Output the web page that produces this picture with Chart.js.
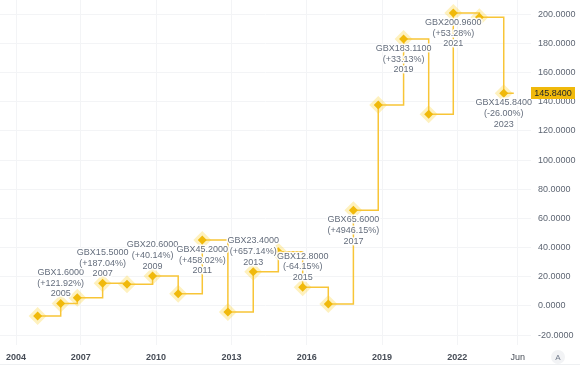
<!DOCTYPE html>
<html><head><meta charset="utf-8">
<script src="https://cdn.jsdelivr.net/npm/chart.js@4.4.1/dist/chart.umd.min.js"></script>
<style>html,body{margin:0;padding:0;background:#fff;}#wrap{width:580px;height:373px;position:relative;}</style>
</head><body><div id="wrap"><canvas id="c" width="580" height="373"></canvas></div>
<script>
// ---- data ----
const dates  = [2005.28, 2006.20, 2006.86, 2007.87, 2008.84, 2009.86, 2010.88, 2011.84, 2012.86, 2013.87,
                2014.87, 2015.84, 2016.86, 2017.86, 2018.85, 2019.86, 2020.86, 2021.84, 2022.88, 2023.85];
const values = [-6.9, 1.6, 5.6, 15.5, 14.8, 20.6, 8.4, 45.2, -4.2, 23.4,
                37.2, 12.8, 1.3, 65.6, 137.8, 183.11, 131.4, 200.96, 197.9, 145.84];
const currentDate = 2024.25;
const currentPrice = 145.84;
const labeledIndex = [1, 3, 5, 7, 9, 11, 13, 15, 17, 19];
const labelYears = ['2005','2007','2009','2011','2013','2015','2017','2019','2021','2023'];
const pctChanges = [121.92, 187.04, 40.14, 458.02, 657.14, -64.15, 4946.15, 33.13, 53.28, -26.00];
const labelBelow = [false, false, false, true, false, false, true, true, true, true];
const xTickValues = [2004.42, 2007, 2010, 2013, 2016, 2019, 2022, 2024.41];
const xTickLabels = ['2004','2007','2010','2013','2016','2019','2022','Jun'];
const yTickValues = [-20, 0, 20, 40, 60, 80, 100, 120, 140, 160, 180, 200];

const FONT = '"Liberation Sans", Arial, sans-serif';
const pts = dates.map((d, i) => ({x: d, y: values[i]}));
const linePts = pts.concat([{x: currentDate, y: currentPrice}]);

function noPad(s) { s.paddingTop = 0; s.paddingBottom = 0; s.paddingLeft = 0; s.paddingRight = 0; }

const labelPlugin = {
  id: 'labels',
  afterDatasetsDraw(chart) {
    const ctx = chart.ctx;
    const meta = chart.getDatasetMeta(0);
    ctx.save();
    ctx.font = '9px ' + FONT;
    ctx.textAlign = 'center';
    ctx.textBaseline = 'middle';
    const lh = 10.7;
    labeledIndex.forEach((di, k) => {
      const p = meta.data[di];
      const pc = pctChanges[k];
      const lines = ['GBX' + values[di].toFixed(4), '(' + (pc >= 0 ? '+' : '') + pc.toFixed(2) + '%)', labelYears[k]];
      const y0 = labelBelow[k] ? p.y + 9.6 : p.y - 9.6 - 2 * lh;
      lines.forEach((t, j) => {
        ctx.strokeStyle = 'rgba(255,255,255,0.9)';
        ctx.lineWidth = 3;
        ctx.lineJoin = 'round';
        ctx.strokeText(t, p.x, y0 + j * lh);
        ctx.fillStyle = '#656E7D';
        ctx.fillText(t, p.x, y0 + j * lh);
      });
    });
    ctx.restore();
  },
  afterDraw(chart) {
    const ctx = chart.ctx;
    const ys = chart.scales.y;
    const ca = chart.chartArea;
    ctx.save();
    // price tag
    const py = ys.getPixelForValue(currentPrice);
    ctx.fillStyle = '#F0B90B';
    ctx.fillRect(ca.right, Math.round(py) - 6, 44, 12);
    ctx.fillStyle = '#1E2329';
    ctx.font = '9px ' + FONT;
    ctx.textAlign = 'center';
    ctx.textBaseline = 'middle';
    ctx.fillText(currentPrice.toFixed(4), ca.right + 22, py + 0.5);
    // bottom line
    ctx.fillStyle = '#EEF0F2';
    ctx.fillRect(0, 364, 580, 1);
    // "A" button
    ctx.beginPath();
    ctx.arc(558, 357, 7, 0, Math.PI * 2);
    ctx.fillStyle = '#F2F3F5';
    ctx.fill();
    ctx.fillStyle = '#707A8A';
    ctx.font = '8px ' + FONT;
    ctx.fillText('A', 558, 357.5);
    ctx.restore();
  }
};

new Chart(document.getElementById('c'), {
  type: 'line',
  data: {
    datasets: [
      {
        data: linePts,
        stepped: true,
        borderColor: '#F8C537',
        borderWidth: 1.5,
        pointStyle: 'rectRot',
        pointRadius: ctx => ctx.dataIndex < values.length ? 4.5 : 0,
        pointBackgroundColor: '#F0B90B',
        pointBorderWidth: 0,
        order: 1,
        clip: false
      },
      {
        data: pts,
        showLine: false,
        pointStyle: 'rectRot',
        pointRadius: 9,
        pointBackgroundColor: 'rgba(252,213,53,0.32)',
        pointBorderWidth: 0,
        order: 2,
        clip: false
      }
    ]
  },
  options: {
    animation: false,
    responsive: false,
    devicePixelRatio: 1,
    layout: {padding: 0, autoPadding: false},
    plugins: {legend: {display: false}, tooltip: {enabled: false}},
    scales: {
      x: {
        type: 'linear',
        min: 2003.781,
        max: 2024.936,
        afterBuildTicks: s => { s.ticks = xTickValues.map(v => ({value: v})); },
        afterFit: s => { s.height = 28; noPad(s); },
        grid: {color: '#F3F4F6', drawTicks: false},
        border: {display: false},
        ticks: {
          padding: 7,
          color: '#474D57',
          maxRotation: 0,
          autoSkip: false,
          font: ctx => ({family: FONT, size: 9, weight: (ctx.index === xTickLabels.length - 1) ? 'normal' : 'bold'}),
          callback: (v, i) => xTickLabels[i]
        }
      },
      y: {
        type: 'linear',
        position: 'right',
        min: -26.8,
        max: 209.8,
        afterBuildTicks: s => { s.ticks = yTickValues.map(v => ({value: v})); },
        afterFit: s => { s.width = 49; noPad(s); },
        grid: {color: '#F3F4F6', drawTicks: false},
        border: {display: false},
        ticks: {
          padding: 7,
          color: '#5E6673',
          font: {family: FONT, size: 9},
          callback: v => Number(v).toFixed(4)
        }
      }
    }
  },
  plugins: [labelPlugin]
});
</script>
</body></html>
